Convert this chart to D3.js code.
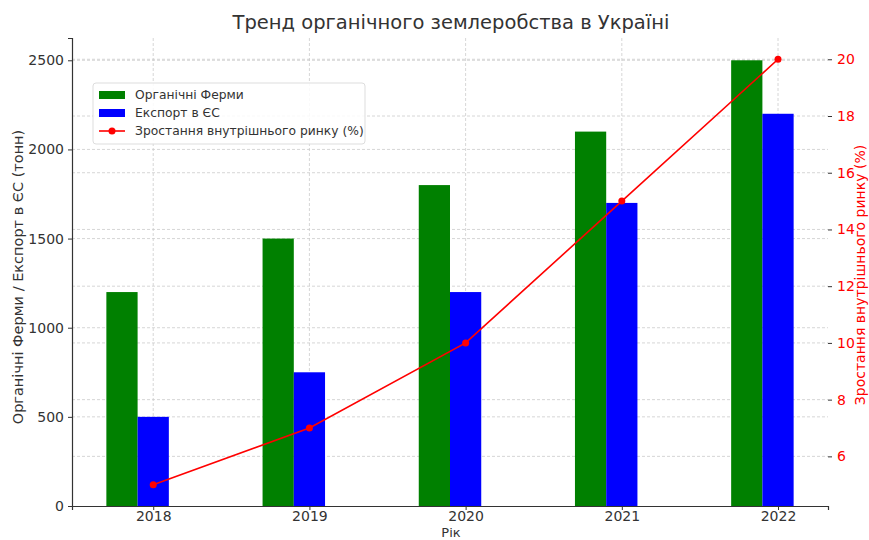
<!DOCTYPE html>
<meta charset="utf-8">
<style>
body { margin: 0; background: #fff; }
svg { font-family: "DejaVu Sans", sans-serif; }
.grid line { stroke: #ccc; stroke-dasharray: 3,2; stroke-width: 0.8px; }
</style>
<body>
<script src="https://cdn.jsdelivr.net/npm/d3@7"></script>
<script>
var years = [2018, 2019, 2020, 2021, 2022];
var farms = [1200, 1500, 1800, 2100, 2500];
var exportEU = [500, 750, 1200, 1700, 2200];
var growth = [5, 7, 10, 15, 20];
var leftTicks = [0, 500, 1000, 1500, 2000, 2500];
var rightTicks = [6, 8, 10, 12, 14, 16, 18, 20];

var margin = {top: 38, right: 41, bottom: 34, left: 72},
    width = 869 - margin.left - margin.right,
    height = 540 - margin.top - margin.bottom;

var svg = d3.select("body").append("svg")
    .attr("width", 869)
    .attr("height", 540)
  .append("g")
    .attr("transform", "translate(" + margin.left + "," + margin.top + ")");

var x = d3.scaleLinear().domain([2017.48, 2022.32]).range([0, width]);
var y = d3.scaleLinear().domain([0, 2625]).range([height, 0]);
var y2 = d3.scaleLinear().domain([4.25, 20.75]).range([height, 0]);
var bw = x(2018.2) - x(2018);

// grid
var grid = svg.append("g").attr("class", "grid");
grid.selectAll(".gx").data(years).enter().append("line")
    .attr("x1", d => x(d)).attr("x2", d => x(d))
    .attr("y1", 0).attr("y2", height);
grid.selectAll(".gy").data(leftTicks.slice(1)).enter().append("line")
    .attr("x1", 0).attr("x2", width)
    .attr("y1", d => y(d)).attr("y2", d => y(d));
grid.selectAll(".gy2").data(rightTicks).enter().append("line")
    .attr("x1", 0).attr("x2", width)
    .attr("y1", d => y2(d)).attr("y2", d => y2(d));

svg.selectAll(".farm").data(years).enter().append("rect")
    .attr("x", d => x(d - 0.2) - bw / 2)
    .attr("width", bw)
    .attr("y", (d, i) => y(farms[i]))
    .attr("height", (d, i) => height - y(farms[i]))
    .attr("fill", "green");

svg.selectAll(".exp").data(years).enter().append("rect")
    .attr("x", d => x(d) - bw / 2)
    .attr("width", bw)
    .attr("y", (d, i) => y(exportEU[i]))
    .attr("height", (d, i) => height - y(exportEU[i]))
    .attr("fill", "blue");

var line = d3.line().x((d, i) => x(years[i])).y(d => y2(d));
svg.append("path").datum(growth)
    .attr("d", line).attr("fill", "none")
    .attr("stroke", "red").attr("stroke-width", 1.6);
svg.selectAll(".dot").data(growth).enter().append("circle")
    .attr("cx", (d, i) => x(years[i])).attr("cy", d => y2(d))
    .attr("r", 3.5).attr("fill", "red");

// axes
var xAxis = svg.append("g").attr("transform", "translate(0," + height + ")")
    .call(d3.axisBottom(x).tickValues(years).tickFormat(d3.format("d")).tickSize(4).tickPadding(1));
var yAxis = svg.append("g")
    .call(d3.axisLeft(y).tickValues(leftTicks).tickFormat(d3.format("d")).tickSize(4).tickPadding(4));
var y2Axis = svg.append("g").attr("transform", "translate(" + width + ",0)")
    .call(d3.axisRight(y2).tickValues(rightTicks).tickSize(4).tickPadding(5));
[xAxis, yAxis, y2Axis].forEach(function(a) {
  a.attr("font-family", "DejaVu Sans").attr("font-size", 14);
});
[xAxis, yAxis].forEach(function(a) {
  a.select(".domain").attr("stroke", "#333").attr("stroke-width", 1.2);
  a.selectAll(".tick line").attr("stroke", "#333");
  a.selectAll(".tick text").attr("fill", "#333");
});
y2Axis.select(".domain").remove();
y2Axis.selectAll(".tick line").attr("stroke", "#333");
y2Axis.selectAll(".tick text").attr("fill", "red");

svg.append("text").attr("x", width / 2 + 1).attr("y", -9)
    .attr("text-anchor", "middle").attr("font-size", 19.5).attr("fill", "#333")
    .text("Тренд органічного землеробства в Україні");
svg.append("text").attr("x", width / 2 + 1).attr("y", height + 30.5)
    .attr("text-anchor", "middle").attr("font-size", 13).attr("fill", "#333")
    .text("Рік");
svg.append("text").attr("transform", "translate(-49," + (height / 2 + 5) + ") rotate(-90)")
    .attr("text-anchor", "middle").attr("font-size", 14.5).attr("fill", "#333")
    .text("Органічні Ферми / Експорт в ЄС (тонн)");
svg.append("text").attr("transform", "translate(" + (width + 37) + "," + (height / 2 + 3) + ") rotate(-90)")
    .attr("text-anchor", "middle").attr("font-size", 14).attr("fill", "red")
    .text("Зростання внутрішнього ринку (%)");

// legend
var lg = svg.append("g").attr("transform", "translate(21,45)");
lg.append("rect").attr("width", 272).attr("height", 61).attr("rx", 3)
    .attr("fill", "#fff").attr("fill-opacity", 0.85).attr("stroke", "#ddd");
var items = [
  {name: "Органічні Ферми", color: "green", type: "bar"},
  {name: "Експорт в ЄС", color: "blue", type: "bar"},
  {name: "Зростання внутрішнього ринку (%)", color: "red", type: "line"}
];
items.forEach(function(it, i) {
  var g = lg.append("g").attr("transform", "translate(6," + (12 + i * 18) + ")");
  if (it.type === "bar") {
    g.append("rect").attr("x", 0).attr("y", -4).attr("width", 26).attr("height", 8).attr("fill", it.color);
  } else {
    g.append("line").attr("x1", 0).attr("x2", 26).attr("stroke", it.color).attr("stroke-width", 1.6);
    g.append("circle").attr("cx", 13).attr("r", 3.5).attr("fill", it.color);
  }
  g.append("text").attr("x", 36).attr("dy", "0.35em").attr("font-size", 12.3).attr("fill", "#333").text(it.name);
});
</script>
